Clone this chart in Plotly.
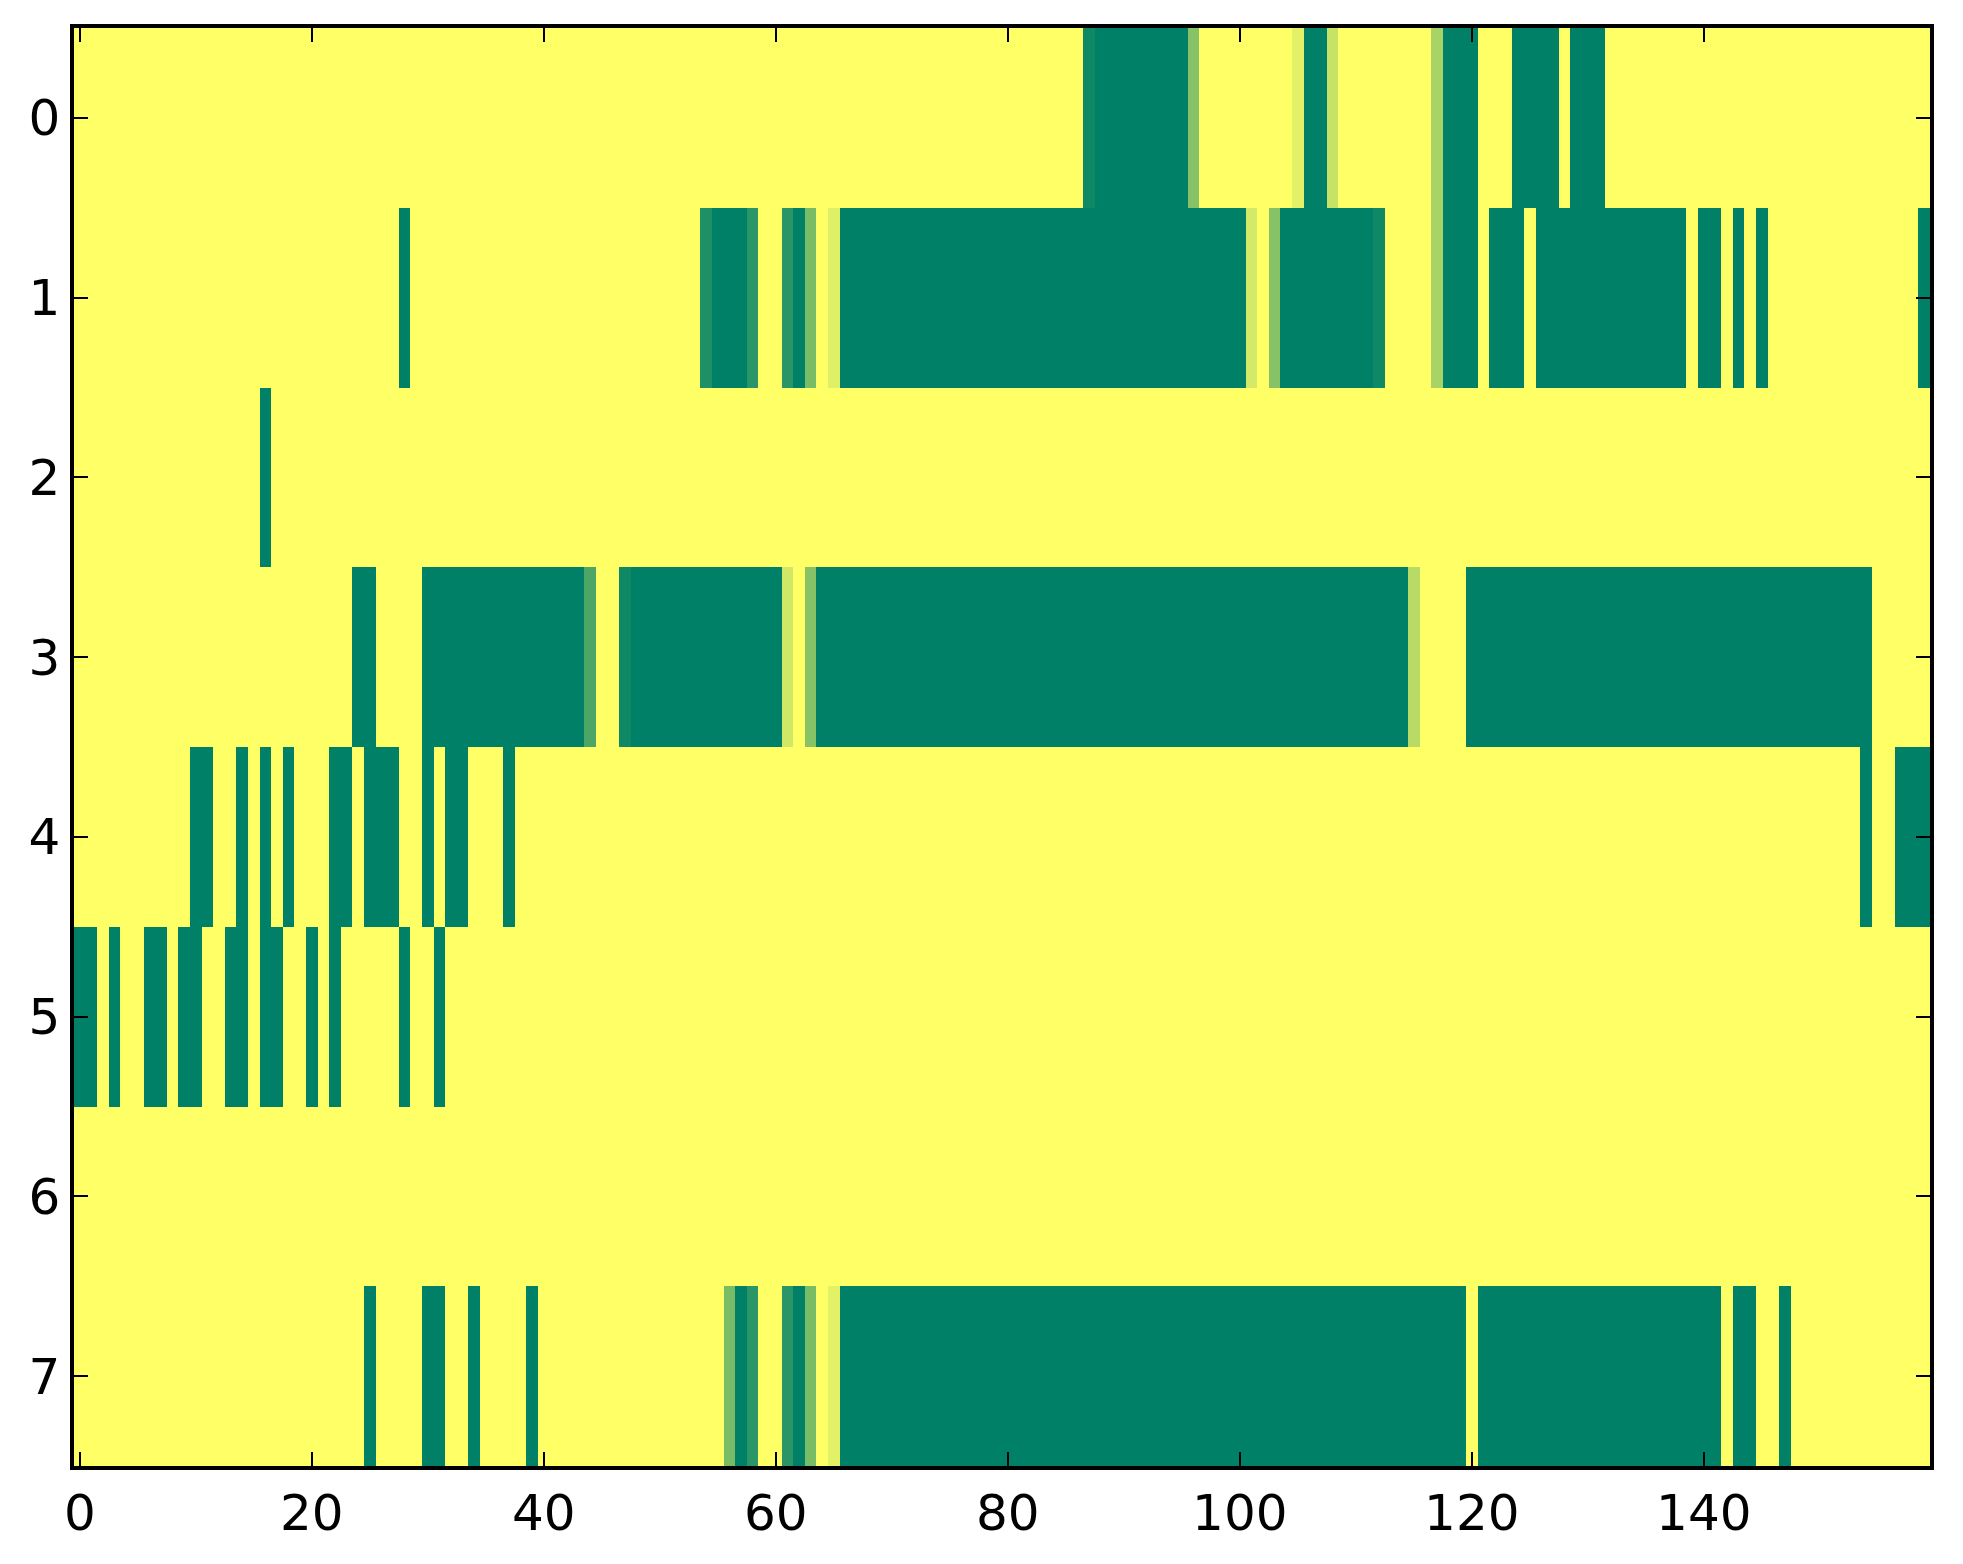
import numpy as np
import plotly.graph_objects as go

n_rows = 8
n_cols = 160

# Runs of non-yellow cells per row: (first column, last column, value); everything else is 1.0
row_0 = [(87, 87, 0.06), (88, 95, 0.0), (96, 96, 0.53), (105, 105, 0.89),
         (106, 107, 0.0), (108, 108, 0.78), (117, 117, 0.66), (118, 120, 0.0),
         (124, 127, 0.0), (129, 131, 0.0)]
row_1 = [(28, 28, 0.0), (54, 54, 0.12), (55, 57, 0.0), (58, 58, 0.165),
         (61, 61, 0.165), (62, 62, 0.0), (63, 63, 0.47), (65, 65, 0.88),
         (66, 100, 0.0), (101, 101, 0.83), (103, 103, 0.53), (104, 111, 0.0),
         (112, 112, 0.06), (117, 117, 0.66), (118, 120, 0.0), (122, 124, 0.0),
         (126, 138, 0.0), (140, 141, 0.0), (143, 143, 0.0), (145, 145, 0.0),
         (159, 159, 0.0)]
row_2 = [(16, 16, 0.0)]
row_3 = [(24, 25, 0.0), (30, 43, 0.0), (44, 44, 0.3), (47, 47, 0.06),
         (48, 60, 0.0), (61, 61, 0.82), (63, 63, 0.53), (64, 114, 0.0),
         (115, 115, 0.72), (120, 154, 0.0)]
row_4 = [(10, 11, 0.0), (14, 14, 0.0), (16, 16, 0.0), (18, 18, 0.0),
         (22, 23, 0.0), (25, 27, 0.0), (30, 30, 0.0), (32, 33, 0.0),
         (37, 37, 0.0), (154, 154, 0.0), (157, 159, 0.0)]
row_5 = [(0, 1, 0.0), (3, 3, 0.0), (6, 7, 0.0), (9, 10, 0.0), (13, 14, 0.0),
         (16, 17, 0.0), (20, 20, 0.0), (22, 22, 0.0), (28, 28, 0.0), (31, 31, 0.0)]
row_6 = []
row_7 = [(25, 25, 0.0), (30, 31, 0.0), (34, 34, 0.0), (39, 39, 0.0),
         (56, 56, 0.47), (57, 57, 0.0), (58, 58, 0.165), (61, 61, 0.165),
         (62, 62, 0.0), (63, 63, 0.47), (65, 65, 0.89), (66, 119, 0.0),
         (121, 141, 0.0), (143, 144, 0.0), (147, 147, 0.0)]

x_ticks = [0, 20, 40, 60, 80, 100, 120, 140]
y_ticks = [0, 1, 2, 3, 4, 5, 6, 7]

rows = [row_0, row_1, row_2, row_3, row_4, row_5, row_6, row_7]
z = np.ones((n_rows, n_cols))
for r, runs in enumerate(rows):
    for a, b, v in runs:
        z[r, a:b + 1] = v

summer = [[0.0, "rgb(0,128,102)"], [1.0, "rgb(255,255,102)"]]

fig = go.Figure(go.Heatmap(
    z=z, x=np.arange(n_cols), y=np.arange(n_rows),
    colorscale=summer, zmin=0, zmax=1, showscale=False,
))

axis_common = dict(
    showline=True, linecolor="black", linewidth=3.5, mirror="allticks",
    ticks="inside", ticklen=14, tickwidth=2, tickcolor="black",
    showgrid=False, zeroline=False,
    tickfont=dict(family="DejaVu Sans", size=50, color="black"),
)

fig.update_layout(
    width=1963, height=1564,
    margin=dict(l=66, r=41, t=20, b=106),
    paper_bgcolor="white", plot_bgcolor="white",
    xaxis=dict(range=[-0.5, n_cols - 0.5], tickvals=x_ticks, **axis_common),
    yaxis=dict(range=[n_rows - 0.5, -0.5], tickvals=y_ticks, **axis_common),
)

fig.write_html("out.html")
